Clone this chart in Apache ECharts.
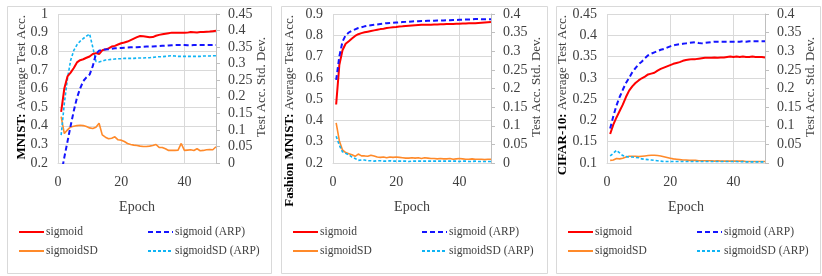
<!DOCTYPE html>
<html>
<head>
<meta charset="utf-8">
<script src="https://cdn.jsdelivr.net/npm/echarts@6/dist/echarts.min.js"></script>
<style>html,body{margin:0;padding:0;background:#fff}#c{width:822px;height:276px}</style>
</head>
<body>
<div id="c"></div>
<script>
// ---------- DATA ----------
var epochs = [1,2,3,4,5,6,7,8,9,10,11,12,13,14,15,16,17,18,19,20,21,22,23,24,25,26,27,28,29,30,31,32,33,34,35,36,37,38,39,40,41,42,43,44,45,46,47,48,49,50];
var seriesNames = ['sigmoid', 'sigmoid (ARP)', 'sigmoidSD', 'sigmoidSD (ARP)'];
var xTicks = [0, 20, 40];

// MNIST
var mnistSigmoid = [0.475,0.60,0.665,0.685,0.71,0.74,0.752,0.757,0.765,0.772,0.785,0.79,0.785,0.805,0.81,0.815,0.825,0.829,0.836,0.843,0.847,0.852,0.86,0.868,0.876,0.882,0.88,0.878,0.875,0.876,0.883,0.888,0.891,0.894,0.897,0.9,0.9,0.9,0.899,0.899,0.9,0.903,0.902,0.901,0.903,0.903,0.905,0.906,0.908,0.91];
var mnistSigmoidARP = [0.14,0.23,0.315,0.40,0.48,0.55,0.6,0.64,0.66,0.675,0.72,0.785,0.803,0.808,0.81,0.811,0.813,0.816,0.817,0.818,0.819,0.82,0.821,0.822,0.822,0.823,0.824,0.825,0.826,0.826,0.827,0.828,0.829,0.83,0.831,0.832,0.833,0.833,0.833,0.833,0.832,0.832,0.833,0.833,0.833,0.833,0.833,0.833,0.834,0.834];
var mnistSD = [0.14,0.089,0.1,0.109,0.111,0.113,0.114,0.113,0.11,0.106,0.104,0.108,0.12,0.085,0.078,0.073,0.075,0.079,0.07,0.069,0.065,0.059,0.056,0.054,0.053,0.051,0.05,0.05,0.051,0.053,0.056,0.047,0.047,0.043,0.038,0.038,0.038,0.039,0.059,0.038,0.039,0.04,0.038,0.043,0.037,0.038,0.04,0.041,0.04,0.049];
var mnistSDARP = [0.084,0.18,0.255,0.31,0.34,0.357,0.368,0.376,0.383,0.39,0.35,0.307,0.305,0.308,0.311,0.312,0.313,0.314,0.315,0.315,0.316,0.316,0.316,0.316,0.317,0.317,0.317,0.318,0.318,0.319,0.32,0.321,0.321,0.322,0.323,0.324,0.323,0.322,0.322,0.322,0.322,0.322,0.322,0.322,0.322,0.323,0.323,0.323,0.324,0.324];

// Fashion MNIST
var fashionSigmoid = [0.475,0.66,0.73,0.76,0.772,0.785,0.797,0.805,0.81,0.814,0.817,0.82,0.823,0.826,0.829,0.831,0.834,0.836,0.838,0.839,0.841,0.842,0.844,0.845,0.846,0.847,0.848,0.849,0.849,0.85,0.85,0.851,0.851,0.852,0.852,0.853,0.853,0.853,0.854,0.854,0.855,0.855,0.856,0.857,0.857,0.858,0.859,0.86,0.861,0.862];
var fashionSigmoidARP = [0.59,0.7,0.77,0.8,0.813,0.822,0.828,0.834,0.838,0.842,0.845,0.847,0.849,0.851,0.853,0.855,0.857,0.858,0.859,0.86,0.861,0.862,0.863,0.864,0.865,0.866,0.866,0.867,0.867,0.868,0.868,0.868,0.869,0.869,0.87,0.871,0.871,0.872,0.872,0.873,0.873,0.874,0.874,0.875,0.876,0.876,0.875,0.875,0.875,0.875];
var fashionSD = [0.108,0.06,0.035,0.028,0.025,0.022,0.018,0.024,0.019,0.019,0.018,0.021,0.019,0.016,0.015,0.016,0.014,0.016,0.015,0.016,0.015,0.014,0.013,0.013,0.014,0.013,0.014,0.012,0.014,0.013,0.012,0.012,0.011,0.012,0.011,0.011,0.012,0.01,0.011,0.012,0.011,0.01,0.01,0.011,0.01,0.01,0.01,0.009,0.01,0.01];
var fashionSDARP = [0.072,0.048,0.03,0.026,0.022,0.016,0.012,0.007,0.008,0.008,0.006,0.006,0.005,0.006,0.006,0.005,0.005,0.006,0.005,0.005,0.005,0.005,0.005,0.004,0.005,0.005,0.005,0.005,0.005,0.005,0.005,0.005,0.005,0.005,0.005,0.005,0.005,0.005,0.005,0.004,0.005,0.005,0.004,0.004,0.005,0.004,0.004,0.004,0.004,0.004];

// CIFAR-10
var cifarSigmoid = [0.168,0.19,0.207,0.222,0.237,0.255,0.27,0.28,0.288,0.294,0.299,0.303,0.308,0.31,0.312,0.317,0.321,0.324,0.327,0.33,0.333,0.335,0.337,0.34,0.342,0.343,0.344,0.344,0.345,0.346,0.347,0.347,0.347,0.348,0.347,0.348,0.348,0.349,0.35,0.349,0.35,0.349,0.35,0.349,0.349,0.35,0.349,0.349,0.349,0.348];
var cifarSigmoidARP = [0.181,0.21,0.235,0.255,0.272,0.288,0.3,0.313,0.323,0.332,0.338,0.346,0.353,0.357,0.36,0.363,0.366,0.368,0.371,0.374,0.376,0.378,0.379,0.38,0.381,0.382,0.383,0.384,0.382,0.381,0.382,0.383,0.384,0.385,0.385,0.385,0.385,0.385,0.385,0.385,0.385,0.385,0.386,0.385,0.386,0.386,0.386,0.386,0.386,0.386];
var cifarSD = [0.007,0.008,0.012,0.011,0.013,0.016,0.018,0.018,0.018,0.017,0.018,0.019,0.02,0.021,0.021,0.02,0.019,0.017,0.015,0.013,0.011,0.01,0.009,0.008,0.008,0.007,0.007,0.007,0.006,0.006,0.006,0.006,0.006,0.005,0.006,0.005,0.005,0.005,0.005,0.005,0.005,0.005,0.005,0.004,0.004,0.004,0.004,0.004,0.004,0.004];
var cifarSDARP = [0.019,0.026,0.034,0.027,0.02,0.017,0.016,0.016,0.015,0.014,0.011,0.01,0.009,0.008,0.007,0.006,0.005,0.004,0.004,0.004,0.004,0.004,0.004,0.004,0.004,0.004,0.004,0.004,0.004,0.004,0.004,0.004,0.004,0.004,0.004,0.004,0.004,0.004,0.004,0.004,0.004,0.003,0.004,0.003,0.003,0.003,0.003,0.003,0.003,0.003];

// axis ranges
var leftAxisNames = ['MNIST:', 'Fashion MNIST:', 'CIFAR-10:'];
var leftMin = [0.2, 0.2, 0.1], leftMax = [1.0, 0.9, 0.45], leftStep = [0.1, 0.1, 0.05];
var rightMin = [0, 0, 0], rightMax = [0.45, 0.4, 0.4], rightStep = [0.05, 0.05, 0.05];

// ---------- CHART ----------
var FONT = '"Liberation Serif", "Times New Roman", serif';
var TXT = '#404040';
var GRIDC = '#d9d9d9';
var panels = [
  {data: [mnistSigmoid, mnistSigmoidARP, mnistSD, mnistSDARP]},
  {data: [fashionSigmoid, fashionSigmoidARP, fashionSD, fashionSDARP]},
  {data: [cifarSigmoid, cifarSigmoidARP, cifarSD, cifarSDARP]}
];
var gridLeft = [58, 333, 607];
var panelLeft = [5, 279, 554];
var styles = [
  {color: '#ff0000', width: 2, type: 'solid', axis: 0},
  {color: '#1414ff', width: 2, type: [5, 3], axis: 0},
  {color: '#ff8a2a', width: 1.6, type: 'solid', axis: 1},
  {color: '#10b4f4', width: 1.6, type: [3, 2], axis: 1}
];

var grid = [], xAxis = [], yAxis = [], series = [], legend = [], graphic = [];
for (var p = 0; p < 3; p++) {
  grid.push({left: gridLeft[p], top: 14, width: 158, height: 149});
  xAxis.push({
    type: 'value', gridIndex: p, min: 0, max: 50, interval: 20,
    name: 'Epoch', nameLocation: 'middle', nameGap: 37,
    nameTextStyle: {fontFamily: FONT, fontSize: 14, color: TXT},
    axisLine: {show: true, lineStyle: {color: GRIDC}},
    axisTick: {show: false},
    splitLine: {show: true, lineStyle: {color: GRIDC}},
    axisLabel: {fontFamily: FONT, fontSize: 14, color: TXT, margin: 12, showMaxLabel: false,
      formatter: function (v) { return xTicks.indexOf(v) >= 0 ? String(v) : ''; }}
  });
  yAxis.push({
    type: 'value', gridIndex: p, position: 'left',
    min: leftMin[p], max: leftMax[p], interval: leftStep[p],
    axisLine: {show: false}, axisTick: {show: false},
    splitLine: {show: true, lineStyle: {color: GRIDC}},
    axisLabel: {fontFamily: FONT, fontSize: 14, color: TXT, margin: 10}
  });
  yAxis.push({
    type: 'value', gridIndex: p, position: 'right',
    min: rightMin[p], max: rightMax[p], interval: rightStep[p],
    axisLine: {show: true, lineStyle: {color: '#bfbfbf'}},
    axisTick: {show: true, length: 4, lineStyle: {color: '#bfbfbf'}},
    splitLine: {show: false},
    axisLabel: {fontFamily: FONT, fontSize: 14, color: TXT, margin: 12}
  });
  for (var s = 0; s < 4; s++) {
    var vals = panels[p].data[s];
    series.push({
      name: seriesNames[s], type: 'line',
      xAxisIndex: p, yAxisIndex: p * 2 + styles[s].axis,
      showSymbol: false, symbol: 'none', clip: true, animation: false,
      lineStyle: {color: styles[s].color, width: styles[s].width, type: styles[s].type},
      itemStyle: {color: styles[s].color},
      z: [4, 5, 2, 3][s],
      data: epochs.map(function (e, i) { return [e, vals[i]]; })
    });
  }
  var legendCommon = {orient: 'vertical', itemWidth: 25, itemHeight: 10, itemGap: 7,
    top: 226, padding: 0,
    itemStyle: {color: 'rgba(0,0,0,0)', borderWidth: 0, opacity: 0},
    textStyle: {fontFamily: FONT, fontSize: 11.5, color: TXT, padding: [0, 0, 0, -3]}};
  legend.push(Object.assign({}, legendCommon, {left: panelLeft[p] + 13, data: ['sigmoid', 'sigmoidSD']}));
  legend.push(Object.assign({}, legendCommon, {left: panelLeft[p] + 142, data: ['sigmoid (ARP)', 'sigmoidSD (ARP)']}));

  graphic.push({type: 'rect', left: panelLeft[p], top: 4, silent: true,
    shape: {width: p === 1 ? 266 : 264, height: 267},
    style: {fill: 'none', stroke: GRIDC, lineWidth: 1}});
  graphic.push({type: 'text', x: panelLeft[p] + [17, 11, 9][p], y: 15, rotation: Math.PI / 2, silent: true,
    style: {text: '{b|' + leftAxisNames[p] + '} Average Test Acc.', align: 'right', verticalAlign: 'middle',
      fontFamily: FONT, fontSize: 13, fill: TXT,
      rich: {b: {fontFamily: FONT, fontSize: 13, fontWeight: 'bold', fill: '#000'}}}});
  graphic.push({type: 'text', x: gridLeft[p] + 158 + 46, y: 87, rotation: Math.PI / 2, silent: true,
    style: {text: 'Test Acc. Std. Dev.', align: 'center', verticalAlign: 'middle',
      fontFamily: FONT, fontSize: 13, fill: TXT}});
}

var chart = echarts.init(document.getElementById('c'), null, {renderer: 'canvas'});
chart.setOption({
  animation: false,
  backgroundColor: '#fff',
  grid: grid, xAxis: xAxis, yAxis: yAxis, series: series, legend: legend, graphic: graphic
});
</script>
</body>
</html>
